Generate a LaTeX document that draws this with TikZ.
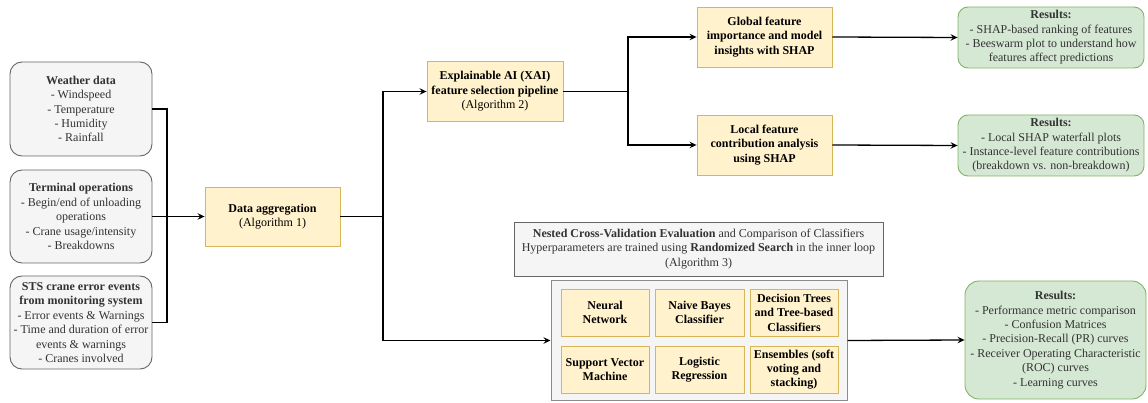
\documentclass[tikz,border=0pt]{standalone}
\usepackage{fontspec}
\setmainfont{Liberation Serif}
\usetikzlibrary{arrows.meta}
\definecolor{ylwfill}{HTML}{FFF2CC}
\definecolor{ylwdraw}{HTML}{D6B656}
\definecolor{gryfill}{HTML}{F5F5F5}
\definecolor{grydraw}{HTML}{666666}
\definecolor{grnfill}{HTML}{D5E8D4}
\definecolor{grndraw}{HTML}{82B366}
\definecolor{txtgray}{HTML}{333333}
\tikzset{
  base/.style={align=center, inner sep=1pt, font=\fontsize{12}{14.4}\selectfont, line width=0.9pt},
  srcbox/.style={base, draw=grydraw, fill=gryfill, rounded corners=12pt, text=txtgray},
  ylwbox/.style={base, draw=ylwdraw, fill=ylwfill, text=black},
  resbox/.style={base, draw=grndraw, fill=grnfill, rounded corners=10pt, text=txtgray},
  cvbox/.style={base, draw=grydraw, fill=gryfill, text=txtgray},
  outerbox/.style={base, draw=black!45, fill=gryfill, line width=1pt},
  conn/.style={line width=1.3pt, black},
  arr/.style={conn, -{Stealth[length=7pt,width=6.5pt,inset=2.5pt]}},
}
\begin{document}
\begin{tikzpicture}[x=1pt,y=-1pt]
\useasboundingbox (0,0) rectangle (1148,403);
% sources
\node[srcbox, minimum width=142pt, minimum height=94pt] (weather) at (81,109)
  {\textbf{Weather data}\\- Windspeed\\- Temperature\\- Humidity\\- Rainfall};
\node[srcbox, minimum width=142pt, minimum height=93pt] (terminal) at (81,216.5)
  {\textbf{Terminal operations}\\- Begin/end of unloading\\operations\\- Crane usage/intensity\\- Breakdowns};
\node[srcbox, minimum width=142pt, minimum height=93pt] (sts) at (81,322.5)
  {\textbf{STS crane error events}\\\textbf{from monitoring system}\\- Error events \& Warnings\\- Time and duration of error\\events \& warnings\\- Cranes involved};
% aggregation
\node[ylwbox, minimum width=135pt, minimum height=59pt] (agg) at (272.5,216.5)
  {\textbf{Data aggregation}\\(Algorithm 1)};
\node[ylwbox, minimum width=136pt, minimum height=60pt] (xai) at (495,91.5)
  {\textbf{Explainable AI (XAI)}\\\textbf{feature selection pipeline}\\(Algorithm 2)};
\node[ylwbox, minimum width=135pt, minimum height=60pt] (global) at (764.5,37)
  {\textbf{Global feature}\\\textbf{importance and model}\\\textbf{insights with SHAP}};
\node[ylwbox, minimum width=135pt, minimum height=60pt] (local) at (764.5,145)
  {\textbf{Local feature}\\\textbf{contribution analysis}\\\textbf{using SHAP}};
% results
\node[resbox, minimum width=186pt, minimum height=61pt] (res1) at (1051,37.5)
  {\textbf{Results:}\\- SHAP-based ranking of features\\- Beeswarm plot to understand how\\features affect predictions};
\node[resbox, minimum width=186pt, minimum height=61pt] (res2) at (1051,145.5)
  {\textbf{Results:}\\- Local SHAP waterfall plots\\- Instance-level feature contributions\\(breakdown vs. non-breakdown)};
\node[resbox, minimum width=181pt, minimum height=118pt, rounded corners=14pt] (res3) at (1055.5,340)
  {\textbf{Results:}\\- Performance metric comparison\\- Confusion Matrices\\- Precision-Recall (PR) curves\\- Receiver Operating Characteristic\\(ROC) curves\\- Learning curves};
% nested CV
\node[cvbox, minimum width=369pt, minimum height=54pt] (nested) at (698.5,249)
  {\textbf{Nested Cross-Validation Evaluation} and Comparison of Classifiers\\Hyperparameters are trained using \textbf{Randomized Search} in the inner loop\\(Algorithm 3)};
\node[outerbox, minimum width=296pt, minimum height=119pt] (outer) at (699,340.5) {};
\node[ylwbox, minimum width=88pt, minimum height=47pt] (nn) at (605,312.5) {\textbf{Neural}\\\textbf{Network}};
\node[ylwbox, minimum width=89pt, minimum height=47pt] (nb) at (699.5,312.5) {\textbf{Naive Bayes}\\\textbf{Classifier}};
\node[ylwbox, minimum width=88pt, minimum height=47pt] (dt) at (794,312.5) {\textbf{Decision Trees}\\\textbf{and Tree-based}\\\textbf{Classifiers}};
\node[ylwbox, minimum width=88pt, minimum height=47pt] (svm) at (605,369.5) {\textbf{Support Vector}\\\textbf{Machine}};
\node[ylwbox, minimum width=89pt, minimum height=47pt] (lr) at (699.5,369.5) {\textbf{Logistic}\\\textbf{Regression}};
\node[ylwbox, minimum width=88pt, minimum height=47pt] (ens) at (794,369.5) {\textbf{Ensembles (soft}\\\textbf{voting and}\\\textbf{stacking)}};
% connectors
\coordinate (b1) at (167,216.5);
\coordinate (b2) at (383,216.5);
\coordinate (b3) at (628,91.5);
\draw[conn] (weather.east) -| (b1) |- (sts.east);
\draw[arr] (terminal.east) -- (agg.west);
\draw[conn] (agg.east) -- (b2);
\draw[arr] (b2) |- (xai.west);
\draw[arr] (b2) |- (outer.west);
\draw[conn] (xai.east) -- (b3);
\draw[arr] (b3) |- (global.west);
\draw[arr] (b3) |- (local.west);
\draw[arr] (global.east) -- (res1.west);
\draw[arr] (local.east) -- (res2.west);
\draw[arr] (outer.east) -- (res3.west);
\end{tikzpicture}
\end{document}
